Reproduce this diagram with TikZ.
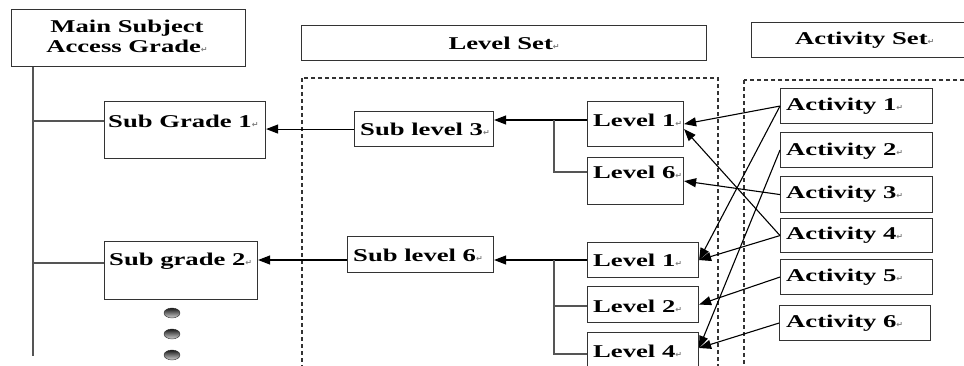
\documentclass[tikz,border=0pt]{standalone}
\usepackage{fontspec}
\setmainfont{Liberation Serif}[FakeStretch=1.48]
\newfontfamily\retfont{DejaVu Sans}
\usetikzlibrary{arrows.meta,calc}
\newcommand\ret{{\retfont\fontsize{8}{8}\selectfont\color{gray}↵}}
\definecolor{edge}{HTML}{333333}
\definecolor{treeline}{HTML}{555555}
\tikzset{
  box/.style={draw=edge, line width=1.1pt, rectangle, inner sep=0pt, anchor=north west},
  lbl/.style={inner sep=0pt, font=\fontsize{18}{20}\selectfont\bfseries, text=black},
  tree/.style={draw=treeline, line width=1.1pt},
  arr/.style={draw=black, line width=1.1pt, -{Triangle[length=12pt,width=9pt]}},
  region/.style={draw=edge, line width=1.3pt, dash pattern=on 4pt off 3pt},
  dot/.style={top color=black!90, bottom color=gray!35, draw=black!80, line width=0.4pt}
}
\begin{document}
\begin{tikzpicture}[x=1pt,y=-1pt]
  \clip (0,0) rectangle (964,365);
  \fill[white] (0,0) rectangle (964,365);

  % dashed regions for the level and activity sets
  \draw[region] (302,78) rectangle (718,372);
  \draw[region] (744,80) rectangle (975,372);

  % header boxes
  \node[box, minimum width=234pt, minimum height=57pt] (main) at (11,9) {};
  \node[lbl, align=center] (maint) at (127,36) {Main Subject\\Access Grade\ret};
  \node[box, minimum width=405pt, minimum height=35pt] (lset) at (301,25) {};
  \node[lbl] (lsett) at (lset.center) {Level Set\ret};
  \node[box, minimum width=225pt, minimum height=35pt] (aset) at (751,22) {};
  \node[lbl, anchor=west] (asett) at (795,40) {Activity Set\ret};

  % grade boxes
  \node[box, minimum width=161pt, minimum height=57pt] (subg1) at (104,101) {};
  \node[lbl, anchor=west] (subg1t) at (108,121) {Sub Grade 1\ret};
  \node[box, minimum width=153pt, minimum height=58pt] (subg2) at (104,241) {};
  \node[lbl, anchor=west] (subg2t) at (109,261) {Sub grade 2\ret};

  % sub level boxes
  \node[box, minimum width=139pt, minimum height=35pt] (subl3) at (354,111) {};
  \node[lbl, anchor=west] (subl3t) at (360,129) {Sub level 3\ret};
  \node[box, minimum width=146pt, minimum height=36pt] (subl6) at (347,236) {};
  \node[lbl, anchor=west] (subl6t) at (353,255) {Sub level 6\ret};

  % level boxes
  \node[box, minimum width=96pt, minimum height=45pt] (lv1a) at (587,101) {};
  \node[lbl, anchor=west] (lv1at) at (593,120) {Level 1\ret};
  \node[box, minimum width=96pt, minimum height=47pt] (lv6) at (587,157) {};
  \node[lbl, anchor=west] (lv6t) at (593,172) {Level 6\ret};
  \node[box, minimum width=111pt, minimum height=35pt] (lv1b) at (587,242) {};
  \node[lbl, anchor=west] (lv1bt) at (593,260) {Level 1\ret};
  \node[box, minimum width=111pt, minimum height=36pt] (lv2) at (587,286) {};
  \node[lbl, anchor=west] (lv2t) at (593,306) {Level 2\ret};
  \node[box, minimum width=111pt, minimum height=40pt] (lv4) at (587,332) {};
  \node[lbl, anchor=west] (lv4t) at (593,351) {Level 4\ret};

  % activity boxes
  \node[box, minimum width=152pt, minimum height=35pt] (a1) at (780,88) {};
  \node[lbl, anchor=west] (a1t) at (786,106) {Activity 1\ret};
  \node[box, minimum width=152pt, minimum height=35pt] (a2) at (780,132) {};
  \node[lbl, anchor=west] (a2t) at (786,151) {Activity 2\ret};
  \node[box, minimum width=152pt, minimum height=36pt] (a3) at (780,176) {};
  \node[lbl, anchor=west] (a3t) at (786,194) {Activity 3\ret};
  \node[box, minimum width=152pt, minimum height=34pt] (a4) at (780,218) {};
  \node[lbl, anchor=west] (a4t) at (786,235) {Activity 4\ret};
  \node[box, minimum width=152pt, minimum height=35pt] (a5) at (780,259) {};
  \node[lbl, anchor=west] (a5t) at (786,277) {Activity 5\ret};
  \node[box, minimum width=151pt, minimum height=35pt] (a6) at (779,305) {};
  \node[lbl, anchor=west] (a6t) at (786,323) {Activity 6\ret};

  % grade tree
  \coordinate (trunkend) at (33,356);
  \draw[tree] (main.south west -| trunkend) -- (trunkend);
  \draw[tree] (trunkend |- subg1t) -- (subg1.west |- subg1t);
  \draw[tree] (trunkend |- 0,263) -- (subg2.west |- 0,263);

  % sub levels feed the grades
  \draw[arr] (subl3.west) -- (subg1.east |- subl3.west);
  \draw[arr] (subl6.west |- lv1bt) -- (subg2.east |- lv1bt);

  % levels feed the sub levels
  \coordinate (br1) at (554,0);
  \coordinate (br2) at (554,0);
  \draw[arr] (lv1a.west |- lv1at) -- (subl3.east |- lv1at);
  \draw[tree] (br1 |- lv1at) -- (br1 |- lv6t) -- (lv6.west |- lv6t);
  \draw[arr] (lv1b.west |- lv1bt) -- (subl6.east |- lv1bt);
  \draw[tree] (br2 |- lv1bt) -- (br2 |- 0,354) -- (lv4.west |- 0,354);
  \draw[tree] (br2 |- lv2t) -- (lv2.west |- lv2t);

  % activities point to levels
  \draw[arr] (a1.west) -- (lv1a.east);
  \draw[arr] (a1.west) -- (lv1b.east);
  \draw[arr] (a2.west) -- (lv4.east |- 0,348);
  \draw[arr] (a3.west) -- (lv6.east);
  \draw[arr] (a4.west) -- ([yshift=-5pt]lv1a.east);
  \draw[arr] (a4.west) -- (lv1b.east);
  \draw[arr] (a5.west) -- (lv2.east);
  \draw[arr] (a6.west) -- (lv4.east |- 0,348);

  % continuation dots
  \shade[dot] (172,313) ellipse (8pt and 5pt);
  \shade[dot] (172,334) ellipse (8pt and 5pt);
  \shade[dot] (172,355) ellipse (8pt and 5pt);
\end{tikzpicture}
\end{document}
